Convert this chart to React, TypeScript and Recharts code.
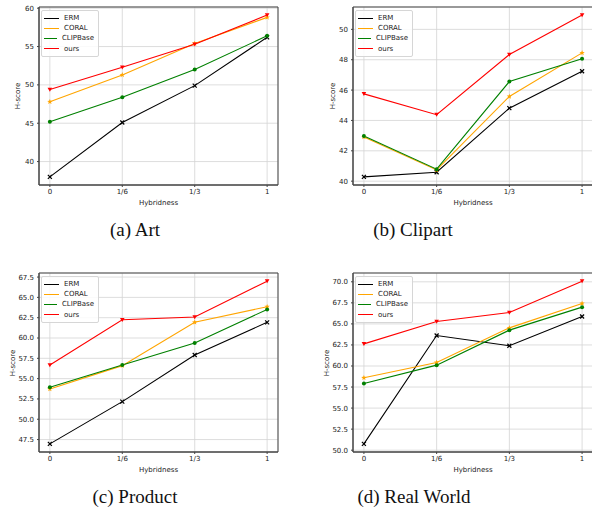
import { LineChart, Line, XAxis, YAxis, CartesianGrid, Legend, ReferenceArea } from "recharts";

const hybridness = ["0", "1/6", "1/3", "1"];

const artERM = [38.0, 45.1, 49.9, 56.2];
const artCORAL = [47.8, 51.3, 55.4, 58.8];
const artCLIPBase = [45.2, 48.4, 52.0, 56.4];
const artOurs = [49.4, 52.3, 55.3, 59.1];

const clipartERM = [40.28, 40.59, 44.81, 47.24];
const clipartCORAL = [42.91, 40.74, 45.58, 48.45];
const clipartCLIPBase = [42.98, 40.79, 46.56, 48.07];
const clipartOurs = [45.75, 44.38, 48.34, 50.94];

const productERM = [46.97, 52.17, 57.91, 61.93];
const productCORAL = [53.73, 56.6, 61.93, 63.85];
const productCLIPBase = [53.93, 56.68, 59.39, 63.52];
const productOurs = [56.68, 62.25, 62.58, 67.0];

const realERM = [50.75, 63.62, 62.4, 65.88];
const realCORAL = [58.6, 60.42, 64.53, 67.43];
const realCLIPBase = [57.92, 60.1, 64.26, 66.99];
const realOurs = [62.63, 65.29, 66.36, 70.08];

const artTicks = [40, 45, 50, 55, 60];
const clipartTicks = [40, 42, 44, 46, 48, 50];
const productTicks = [47.5, 50, 52.5, 55, 57.5, 60, 62.5, 65, 67.5];
const realTicks = [50, 52.5, 55, 57.5, 60, 62.5, 65, 67.5, 70];

const COLORS = { erm: "#000000", coral: "#ffa500", clip: "#008000", ours: "#ff0000" };
const FONT = "DejaVu Sans, sans-serif";

// matplotlib style 5% auto margins
function pad(arrs: number[][]): [number, number] {
  const all = arrs.flat();
  const lo = Math.min(...all);
  const hi = Math.max(...all);
  const m = (hi - lo) * 0.05;
  return [lo - m, hi + m];
}

function buildRows(erm: number[], coral: number[], clip: number[], ours: number[]) {
  return hybridness.map((_, i) => ({ x: i, erm: erm[i], coral: coral[i], clip: clip[i], ours: ours[i] }));
}

const XDot = (p: any) => {
  const { cx, cy } = p;
  if (cx == null || cy == null) return <g />;
  return (
    <path d={`M${cx - 2},${cy - 2}L${cx + 2},${cy + 2}M${cx - 2},${cy + 2}L${cx + 2},${cy - 2}`} stroke={COLORS.erm} strokeWidth={1.2} />
  );
};

const StarDot = (p: any) => {
  const { cx, cy } = p;
  if (cx == null || cy == null) return <g />;
  const pts: string[] = [];
  for (let k = 0; k < 10; k++) {
    const r = k % 2 === 0 ? 2.8 : 1.2;
    const a = -Math.PI / 2 + (k * Math.PI) / 5;
    pts.push(`${cx + r * Math.cos(a)},${cy + r * Math.sin(a)}`);
  }
  return <polygon points={pts.join(" ")} fill={COLORS.coral} />;
};

const CircleDot = (p: any) => {
  const { cx, cy } = p;
  if (cx == null || cy == null) return <g />;
  return <circle cx={cx} cy={cy} r={2} fill={COLORS.clip} />;
};

const TriDot = (p: any) => {
  const { cx, cy } = p;
  if (cx == null || cy == null) return <g />;
  return <polygon points={`${cx - 2.3},${cy - 1.8} ${cx + 2.3},${cy - 1.8} ${cx},${cy + 2.2}`} fill={COLORS.ours} />;
};

const legendItems = [
  { name: "ERM", color: COLORS.erm },
  { name: "CORAL", color: COLORS.coral },
  { name: "CLIPBase", color: COLORS.clip },
  { name: "ours", color: COLORS.ours },
];

const LegendBox = () => (
  <div
    style={{
      border: "1px solid #d6d6d6",
      borderRadius: 2,
      background: "rgba(255,255,255,0.85)",
      padding: "2px 4px 2px 2px",
      width: 50,
      fontFamily: FONT,
      fontSize: 7,
      color: "#222",
    }}
  >
    {legendItems.map((it) => (
      <div key={it.name} style={{ display: "flex", alignItems: "center", height: 10.2 }}>
        <span style={{ display: "inline-block", width: 15, height: 1, background: it.color, marginRight: 5 }} />
        <span>{it.name}</span>
      </div>
    ))}
  </div>
);

interface PanelProps {
  left: number;
  top: number;
  width: number;
  height: number;
  plotL: number;
  plotR: number;
  plotT: number;
  plotB: number;
  erm: number[];
  coral: number[];
  clip: number[];
  ours: number[];
  ticks: number[];
  decimals: number;
  yLabelX: number;
  caption: string;
  captionX: number;
  captionY: number;
}

function Panel(props: PanelProps) {
  const { left, top, width, height, plotL, plotR, plotT, plotB, ticks, decimals } = props;
  const rows = buildRows(props.erm, props.coral, props.clip, props.ours);
  const yDomain = pad([props.erm, props.coral, props.clip, props.ours]);
  const xDomain: [number, number] = [-0.15, 3.15];
  const plotTop = top + plotT;
  const plotBottom = top + height - plotB;
  const plotLeft = left + plotL;
  const plotRight = left + width - plotR;
  const tickStyle = { fontSize: 7, fill: "#222", fontFamily: FONT };

  return (
    <>
      <div style={{ position: "absolute", left, top, width, height }}>
        <LineChart width={width} height={height} data={rows} margin={{ top: plotT, right: plotR, left: 0, bottom: 0 }}>
          <CartesianGrid stroke="#d4d4d4" strokeWidth={0.8} />
          <XAxis
            dataKey="x"
            type="number"
            domain={xDomain}
            ticks={[0, 1, 2, 3]}
            tickFormatter={(v: number) => hybridness[v]}
            height={plotB}
            tickSize={2}
            tickMargin={2}
            tick={tickStyle}
            axisLine={{ stroke: "#444" }}
            tickLine={{ stroke: "#444" }}
            interval={0}
            allowDataOverflow
          />
          <YAxis
            type="number"
            domain={yDomain}
            ticks={ticks}
            tickFormatter={(v: number) => v.toFixed(decimals)}
            width={plotL}
            tickSize={2}
            tickMargin={3}
            tick={tickStyle}
            axisLine={{ stroke: "#444" }}
            tickLine={{ stroke: "#444" }}
            interval={0}
            allowDataOverflow
          />
          <ReferenceArea x1={xDomain[0]} x2={xDomain[1]} y1={yDomain[0]} y2={yDomain[1]} fill="none" stroke="#444" strokeWidth={1} />
          <Line dataKey="erm" name="ERM" stroke={COLORS.erm} strokeWidth={1.1} dot={XDot} isAnimationActive={false} />
          <Line dataKey="coral" name="CORAL" stroke={COLORS.coral} strokeWidth={1.1} dot={StarDot} isAnimationActive={false} />
          <Line dataKey="clip" name="CLIPBase" stroke={COLORS.clip} strokeWidth={1.1} dot={CircleDot} isAnimationActive={false} />
          <Line dataKey="ours" name="ours" stroke={COLORS.ours} strokeWidth={1.1} dot={TriDot} isAnimationActive={false} />
          <Legend
            layout="vertical"
            align="center"
            verticalAlign="middle"
            content={() => <LegendBox />}
            wrapperStyle={{ left: plotL + 2, top: plotT + 3, width: "auto" }}
          />
        </LineChart>
      </div>
      <div
        style={{
          position: "absolute",
          left: props.yLabelX - 30,
          top: (plotTop + plotBottom) / 2 - 5,
          width: 60,
          textAlign: "center",
          fontFamily: FONT,
          fontSize: 7,
          color: "#222",
          lineHeight: "10px",
          transform: "rotate(-90deg)",
        }}
      >
        H-score
      </div>
      <div
        style={{
          position: "absolute",
          left: (plotLeft + plotRight) / 2 - 40,
          top: plotBottom + 13,
          width: 80,
          textAlign: "center",
          fontFamily: FONT,
          fontSize: 7,
          color: "#222",
          lineHeight: "10px",
        }}
      >
        Hybridness
      </div>
      <div
        style={{
          position: "absolute",
          left: props.captionX - 100,
          top: props.captionY - 12,
          width: 200,
          textAlign: "center",
          fontFamily: "Liberation Serif, serif",
          fontSize: 19,
          lineHeight: "24px",
          color: "#111",
        }}
      >
        {props.caption}
      </div>
    </>
  );
}

export default function App() {
  return (
    <div style={{ position: "absolute", left: 0, top: 0, width: 592, height: 510, overflow: "hidden", background: "#fff" }}>
      <Panel
        left={0} top={0} width={296} height={215}
        plotL={39} plotR={18} plotT={7} plotB={30}
        erm={artERM} coral={artCORAL} clip={artCLIPBase} ours={artOurs}
        ticks={artTicks} decimals={0} yLabelX={18} caption="(a) Art" captionX={135} captionY={230}
      />
      <Panel
        left={296} top={0} width={298} height={215}
        plotL={57} plotR={1} plotT={7} plotB={30}
        erm={clipartERM} coral={clipartCORAL} clip={clipartCLIPBase} ours={clipartOurs}
        ticks={clipartTicks} decimals={0} yLabelX={333} caption="(b) Clipart" captionX={413} captionY={230}
      />
      <Panel
        left={0} top={255} width={296} height={215}
        plotL={39} plotR={18} plotT={18} plotB={18}
        erm={productERM} coral={productCORAL} clip={productCLIPBase} ours={productOurs}
        ticks={productTicks} decimals={1} yLabelX={13} caption="(c) Product" captionX={135} captionY={497}
      />
      <Panel
        left={296} top={255} width={298} height={215}
        plotL={57} plotR={1} plotT={18} plotB={18}
        erm={realERM} coral={realCORAL} clip={realCLIPBase} ours={realOurs}
        ticks={realTicks} decimals={1} yLabelX={327} caption="(d) Real World" captionX={414} captionY={497}
      />
    </div>
  );
}
